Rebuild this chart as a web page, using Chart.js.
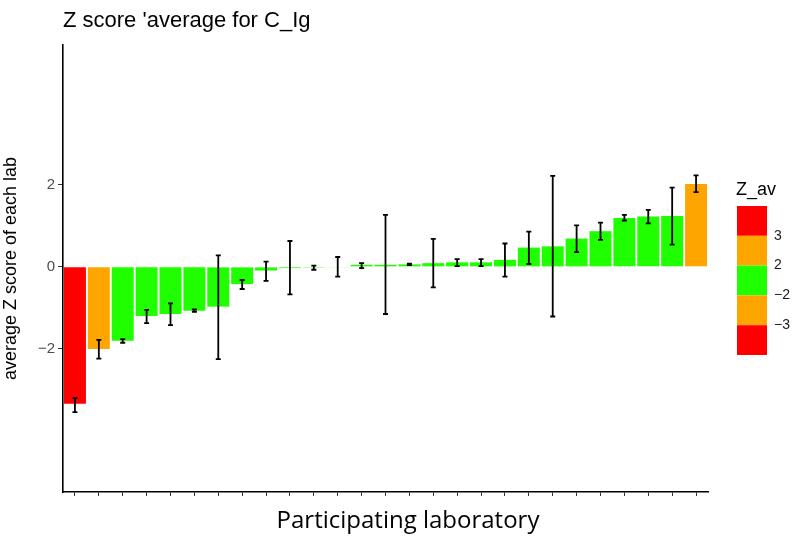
<!DOCTYPE html>
<html>
<head>
<meta charset="utf-8">
<script src="https://cdn.jsdelivr.net/npm/chart.js@4.4.1/dist/chart.umd.min.js"></script>
<style>
  body { margin: 0; background: #fff; }
  #wrap { width: 796px; height: 537px; }
</style>
</head>
<body>
<div id="wrap"><canvas id="zChart" width="796" height="537"></canvas></div>
<script>
// one bar per participating lab, sorted by average Z score
var labs = ['L01', 'L02', 'L03', 'L04', 'L05', 'L06', 'L07', 'L08', 'L09', 'L10',
            'L11', 'L12', 'L13', 'L14', 'L15', 'L16', 'L17', 'L18', 'L19', 'L20',
            'L21', 'L22', 'L23', 'L24', 'L25', 'L26', 'L27'];
var zAvg = [-3.34, -2.0, -1.8, -1.2, -1.15, -1.07, -0.97, -0.42, -0.09, -0.03,
            -0.02, -0.01, 0.05, 0.05, 0.06, 0.09, 0.11, 0.11, 0.17, 0.47,
            0.5, 0.69, 0.87, 1.19, 1.23, 1.24, 2.02];
var errLow = [-3.54, -2.24, -1.85, -1.37, -1.42, -1.1, -2.25, -0.54, -0.34, -0.67,
              -0.07, -0.24, -0.03, -1.15, 0.04, -0.5, 0.02, 0.02, -0.24, 0.07,
              -1.21, 0.36, 0.66, 1.13, 1.06, 0.54, 1.82];
var errHigh = [-3.2, -1.78, -1.76, -1.05, -0.89, -1.04, 0.28, -0.32, 0.13, 0.63,
               0.03, 0.24, 0.09, 1.27, 0.08, 0.68, 0.19, 0.19, 0.57, 0.86,
               2.22, 1.01, 1.08, 1.27, 1.39, 1.93, 2.23];
var yTicks = [-2, 0, 2];
var legendLabels = ['3', '2', '\u22122', '\u22123'];

var RED = '#FF0000', ORANGE = '#FFA500', GREEN = '#1FFF00';

function zColor(v) {
    var a = Math.abs(v);
    if (a >= 3) return RED;
    if (a >= 2) return ORANGE;
    return GREEN;
}

var sansFont = '"Liberation Sans", Arial, sans-serif';

var overlay = {
    id: 'overlay',
    afterDatasetsDraw: function(chart) {
        var ctx = chart.ctx;
        var xs = chart.scales.x, ys = chart.scales.y;
        ctx.save();
        ctx.strokeStyle = '#000';
        ctx.lineWidth = 1.8;
        for (var i = 0; i < zAvg.length; i++) {
            var x = xs.getPixelForValue(i);
            var y1 = ys.getPixelForValue(errLow[i]);
            var y2 = ys.getPixelForValue(errHigh[i]);
            ctx.beginPath();
            ctx.moveTo(x, y1); ctx.lineTo(x, y2);
            ctx.moveTo(x - 2.5, y1); ctx.lineTo(x + 2.5, y1);
            ctx.moveTo(x - 2.5, y2); ctx.lineTo(x + 2.5, y2);
            ctx.stroke();
        }
        ctx.restore();
    },
    afterDraw: function(chart) {
        var ctx = chart.ctx;
        ctx.save();
        // title
        ctx.fillStyle = '#000';
        ctx.font = '22px ' + sansFont;
        ctx.textAlign = 'left';
        ctx.textBaseline = 'alphabetic';
        ctx.fillText("Z score 'average for C_Ig", 63, 27);

        // x axis title
        ctx.font = '24px "Open Sans", Lato, sans-serif';
        ctx.textAlign = 'center';
        ctx.fillText('Participating laboratory', 408, 528);

        // colour legend
        var bx = 737, by = 206, bw = 30, bh = 29.8;
        var blocks = [RED, ORANGE, GREEN, ORANGE, RED];
        blocks.forEach(function(c, k) {
            ctx.fillStyle = c;
            ctx.fillRect(bx, by + k * bh, bw, bh);
        });
        ctx.fillStyle = '#000';
        ctx.font = '18px ' + sansFont;
        ctx.textAlign = 'left';
        ctx.fillText('Z_av', 736, 195);
        ctx.fillStyle = '#1a1a1a';
        ctx.font = '14px ' + sansFont;
        ctx.textBaseline = 'middle';
        legendLabels.forEach(function(t, k) {
            ctx.fillText(t, 774, by + (k + 1) * bh);
        });
        ctx.restore();
    }
};

var ctx = document.getElementById('zChart').getContext('2d');
var zChart = new Chart(ctx, {
    type: 'bar',
    data: {
        labels: labs,
        datasets: [{
            label: 'Z_av',
            data: zAvg,
            backgroundColor: zAvg.map(zColor),
            borderWidth: 0,
            categoryPercentage: 1,
            barPercentage: 0.92
        }]
    },
    options: {
        responsive: false,
        animation: false,
        layout: { padding: { top: 45, right: 88, left: 0, bottom: 0 } },
        plugins: {
            legend: { display: false },
            tooltip: { enabled: false }
        },
        scales: {
            x: {
                offset: true,
                border: { display: true, color: '#000', width: 1.6 },
                grid: { display: true, offset: false, drawOnChartArea: false, tickLength: 4, color: '#333', lineWidth: 1 },
                ticks: { callback: function() { return ''; } },
                afterFit: function(scale) { scale.height = 45; }
            },
            y: {
                min: -5.49,
                max: 5.41,
                border: { display: true, color: '#000', width: 1.6 },
                grid: { display: true, drawOnChartArea: false, tickLength: 5, color: '#333', lineWidth: 1 },
                afterBuildTicks: function(scale) {
                    scale.ticks = yTicks.map(function(v) { return { value: v }; });
                },
                ticks: {
                    color: '#4d4d4d',
                    padding: 3,
                    font: { family: sansFont, size: 15 },
                    callback: function(v) { return String(v).replace('-', '\u2212'); }
                },
                title: {
                    display: true,
                    text: 'average Z score of each lab',
                    color: '#000',
                    font: { family: sansFont, size: 18 },
                    padding: { top: 0, bottom: 4 }
                },
                afterFit: function(scale) { scale.width = 63; }
            }
        }
    },
    plugins: [overlay]
});
</script>
</body>
</html>
